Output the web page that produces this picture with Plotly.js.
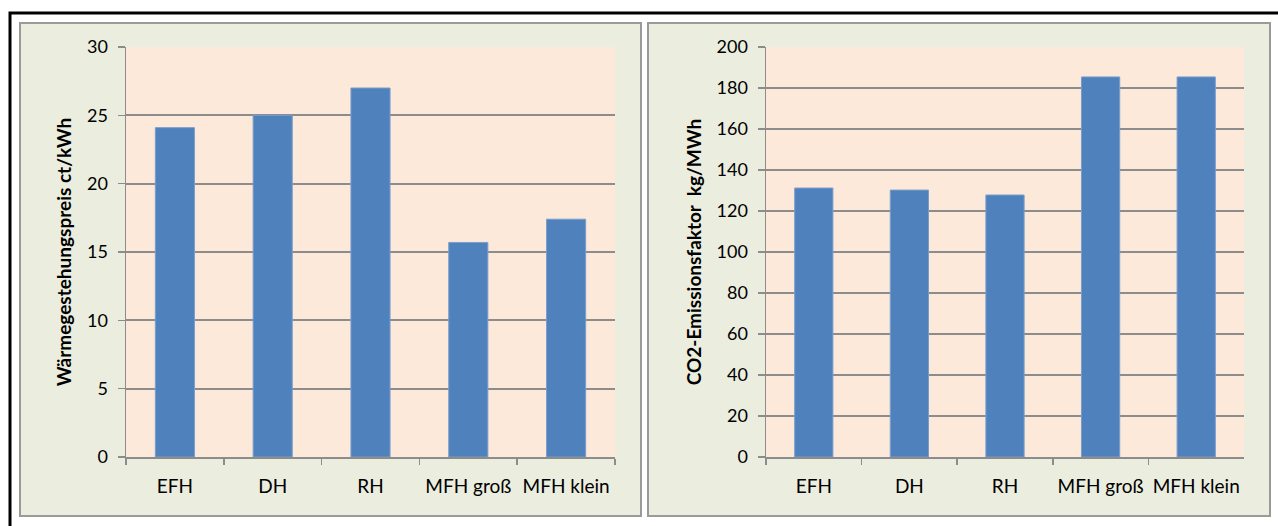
<!DOCTYPE html>
<html>
<head>
<meta charset="utf-8">
<script src="https://cdn.plot.ly/plotly-3.0.1.min.js"></script>
<style>
  html, body { margin: 0; padding: 0; background: #ffffff; }
  #chart { width: 1278px; height: 526px; }
</style>
</head>
<body>
<div id="chart"></div>
<script>
// Building types shared by both panels
const categories = ['EFH', 'DH', 'RH', 'MFH groß', 'MFH klein'];

// Heat generation price in ct/kWh
const heatPrice = [24.1, 25.0, 27.0, 15.7, 17.4];

// CO2 emission factor in kg/MWh
const co2Factor = [131.2, 130.2, 127.8, 185.4, 185.4];

const priceTicks = [0, 5, 10, 15, 20, 25, 30];
const co2Ticks = [0, 20, 40, 60, 80, 100, 120, 140, 160, 180, 200];

const W = 1278, H = 526;
const px = v => v / W;
const py = v => 1 - v / H;

const FONT = 'Lato, "Open Sans", sans-serif';
const BAR = '#4F81BD';
const PANEL = '#EBEDDF';
const PLOT = '#FDE9D9';
const GRID = '#8C8C8C';

const barTrace = (x, y, xa, ya) => ({
  type: 'bar', x: x, y: y, xaxis: xa, yaxis: ya,
  marker: { color: BAR, line: { color: '#7A9DCD', width: 1 } },
  hoverinfo: 'x+y'
});

const xAxisBase = {
  type: 'category',
  showgrid: false,
  showline: true, linecolor: GRID, linewidth: 1.5,
  ticks: 'outside', tickson: 'boundaries', ticklen: 6, tickcolor: GRID, tickwidth: 1.5,
  tickfont: { family: FONT, size: 19, color: '#000' },
  ticklabelstandoff: 12,
  fixedrange: true
};

const yAxisBase = {
  showgrid: true, gridcolor: GRID, gridwidth: 2,
  zeroline: false,
  showline: true, linecolor: GRID, linewidth: 1.5,
  ticks: 'outside', ticklen: 7, tickcolor: GRID, tickwidth: 1.5,
  tickfont: { family: FONT, size: 18, color: '#000' },
  ticklabelstandoff: 6,
  fixedrange: true
};

const titleFont = { family: FONT, size: 19, color: '#000', weight: 'bold' };

const layout = {
  width: W, height: H,
  margin: { l: 0, r: 0, t: 0, b: 0 },
  paper_bgcolor: '#ffffff',
  plot_bgcolor: 'rgba(0,0,0,0)',
  showlegend: false,
  bargap: 0.6,
  xaxis: Object.assign({}, xAxisBase, { domain: [px(126), px(615)], anchor: 'y' }),
  yaxis: Object.assign({}, yAxisBase, {
    domain: [py(457), py(47)], anchor: 'x',
    range: [0, 30], tickvals: priceTicks,
    title: { text: 'Wärmegestehungspreis ct/kWh', font: titleFont, standoff: 10 }
  }),
  xaxis2: Object.assign({}, xAxisBase, { domain: [px(766), px(1244)], anchor: 'y2' }),
  yaxis2: Object.assign({}, yAxisBase, {
    domain: [py(457), py(47)], anchor: 'x2',
    range: [0, 200], tickvals: co2Ticks,
    title: { text: 'CO2-Emissionsfaktor  kg/MWh', font: titleFont, standoff: 10 }
  }),
  shapes: [
    // outer frame (top and left edge)
    { type: 'path', xref: 'paper', yref: 'paper', layer: 'below',
      path: `M ${px(10)} ${py(526)} L ${px(10)} ${py(13)} L ${px(1278)} ${py(13)}`,
      line: { color: '#000', width: 3 } },
    // chart panels
    { type: 'rect', xref: 'paper', yref: 'paper', layer: 'below',
      x0: px(20), x1: px(641), y0: py(516), y1: py(23),
      fillcolor: PANEL, line: { color: '#9A9A9A', width: 2 } },
    { type: 'rect', xref: 'paper', yref: 'paper', layer: 'below',
      x0: px(648), x1: px(1270), y0: py(516), y1: py(23),
      fillcolor: PANEL, line: { color: '#9A9A9A', width: 2 } },
    // plot areas
    { type: 'rect', xref: 'x domain', yref: 'y domain', layer: 'below',
      x0: 0, x1: 1, y0: 0, y1: 1, fillcolor: PLOT, line: { width: 0 } },
    { type: 'rect', xref: 'x2 domain', yref: 'y2 domain', layer: 'below',
      x0: 0, x1: 1, y0: 0, y1: 1, fillcolor: PLOT, line: { width: 0 } }
  ]
};

Plotly.newPlot('chart', [
  barTrace(categories, heatPrice, 'x', 'y'),
  barTrace(categories, co2Factor, 'x2', 'y2')
], layout, { displayModeBar: false, staticPlot: true });
</script>
</body>
</html>
